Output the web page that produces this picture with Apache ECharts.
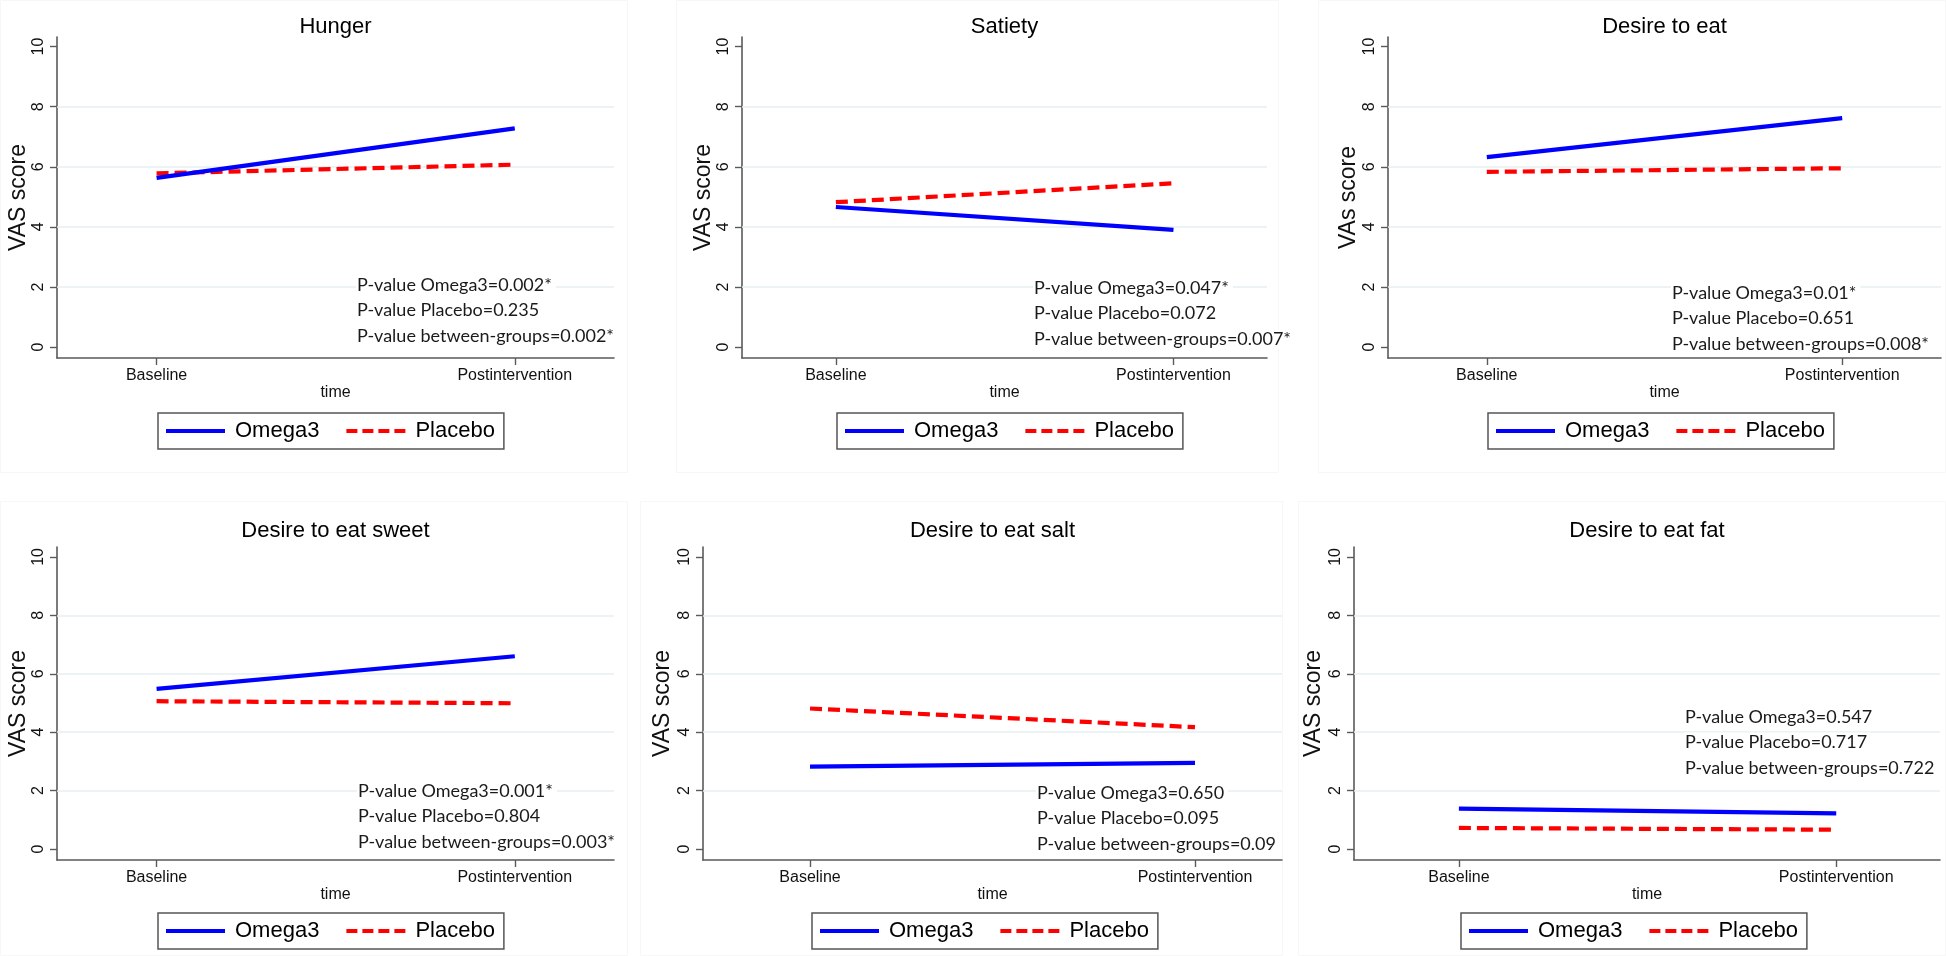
<!DOCTYPE html>
<html>
<head>
<meta charset="utf-8">
<title>VAS scores - Omega3 vs Placebo</title>
<script src="https://cdn.jsdelivr.net/npm/echarts@6/dist/echarts.min.js"></script>
<style>
  html, body { margin: 0; padding: 0; background: #fff; }
  #chart { width: 1946px; height: 956px; }
</style>
</head>
<body>
<div id="chart"></div>
<script>
// data
const timePoints = ['Baseline', 'Postintervention'];
const panelTitles = ['Hunger', 'Satiety', 'Desire to eat', 'Desire to eat sweet', 'Desire to eat salt', 'Desire to eat fat'];
const yNames = ['VAS score', 'VAS score', 'VAs score', 'VAS score', 'VAS score', 'VAS score'];
const yTicks = [0, 2, 4, 6, 8, 10];
const gridValues = [2, 4, 6, 8];

const omega3 = [
  [5.63, 7.28],
  [4.66, 3.90],
  [6.32, 7.62],
  [5.48, 6.60],
  [2.82, 2.95],
  [1.38, 1.22]
];
const placebo = [
  [5.78, 6.07],
  [4.82, 5.45],
  [5.83, 5.95],
  [5.06, 4.99],
  [4.81, 4.17],
  [0.72, 0.66]
];
const pOmega3 = ['0.002*', '0.047*', '0.01*', '0.001*', '0.650', '0.547'];
const pPlacebo = ['0.235', '0.072', '0.651', '0.804', '0.095', '0.717'];
const pBetween = ['0.002*', '0.007*', '0.008*', '0.003*', '0.09', '0.722'];

// layout (pixels) per panel
const layout = [
  {left: 57,   top: 37,  width: 557, height: 321, xMax: 1.277, yMin: -0.366, yMax: 10.32, gap: 26, titleY: 27,  note: [356, 285],  legend: [158, 413], box: [0, 0, 628, 473]},
  {left: 742,  top: 37,  width: 525, height: 321, xMax: 1.277, yMin: -0.366, yMax: 10.32, gap: 26, titleY: 27,  note: [1033, 288], legend: [837, 413], box: [676, 0, 603, 473]},
  {left: 1388, top: 37,  width: 553, height: 321, xMax: 1.278, yMin: -0.366, yMax: 10.32, gap: 28, titleY: 27,  note: [1671, 293], legend: [1488, 413], box: [1318, 0, 628, 473]},
  {left: 57,   top: 547, width: 557, height: 313, xMax: 1.277, yMin: -0.377, yMax: 10.34, gap: 26, titleY: 531, note: [357, 791],  legend: [158, 913], box: [0, 501, 628, 455]},
  {left: 703,  top: 547, width: 579, height: 313, xMax: 1.226, yMin: -0.377, yMax: 10.34, gap: 29, titleY: 531, note: [1036, 793], legend: [812, 913], box: [640, 501, 643, 455]},
  {left: 1354, top: 547, width: 586, height: 313, xMax: 1.275, yMin: -0.377, yMax: 10.34, gap: 29, titleY: 531, note: [1684, 717], legend: [1461, 913], box: [1298, 501, 648, 455]}
];

const axisColor = '#5a5a5a';
const sans = '"Liberation Sans", Arial, sans-serif';
const noteFont = '18px Lato, "Open Sans", sans-serif';
const solidIcon = 'path://M0,0H59V4H0Z';
const dashIcon = 'path://M0,0H11V4H0Z M16,0H27V4H16Z M32,0H43V4H32Z M48,0H59V4H48Z';

const grids = [], xAxes = [], yAxes = [], series = [], legends = [], graphics = [];

layout.forEach(function (p, i) {
  graphics.push({
    type: 'rect', silent: true, z: -10,
    shape: {x: p.box[0] + 0.5, y: p.box[1] + 0.5, width: p.box[2] - 1, height: p.box[3] - 1},
    style: {fill: null, stroke: '#f7f7f7', lineWidth: 1}
  });

  grids.push({left: p.left, top: p.top, width: p.width, height: p.height, containLabel: false});

  xAxes.push({
    type: 'value', gridIndex: i, min: -0.278, max: p.xMax,
    name: 'time', nameLocation: 'middle', nameGap: 27,
    nameTextStyle: {fontFamily: sans, fontSize: 16, color: '#111'},
    axisLine: {show: true, onZero: false, lineStyle: {color: axisColor, width: 1.6}},
    axisTick: {show: true, length: 7, customValues: [0, 1], lineStyle: {color: axisColor, width: 1.4}},
    axisLabel: {
      customValues: [0, 1], margin: 10, fontFamily: sans, fontSize: 16, color: '#111',
      formatter: function (v) { return timePoints[Math.round(v)]; }
    },
    splitLine: {show: false}
  });

  yAxes.push({
    type: 'value', gridIndex: i, min: p.yMin, max: p.yMax,
    name: yNames[i], nameLocation: 'middle', nameGap: p.gap,
    nameTextStyle: {fontFamily: sans, fontSize: 23, color: '#111'},
    axisLine: {show: true, onZero: false, lineStyle: {color: axisColor, width: 1.6}},
    axisTick: {show: true, length: 7, customValues: yTicks, lineStyle: {color: axisColor, width: 1.4}},
    axisLabel: {customValues: yTicks, rotate: 90, margin: 10, fontFamily: sans, fontSize: 16, color: '#111'},
    splitLine: {show: false}
  });

  series.push({
    name: 'Omega3', type: 'line', xAxisIndex: i, yAxisIndex: i,
    data: omega3[i].map(function (v, k) { return [k, v]; }),
    symbol: 'none', z: 3,
    lineStyle: {color: '#0000ff', width: 4.2, type: 'solid'},
    itemStyle: {color: '#0000ff'},
    markLine: {
      silent: true, symbol: 'none', z: 1, animation: false,
      label: {show: false},
      lineStyle: {color: '#e6eff0', type: 'solid', width: 1.5},
      data: gridValues.map(function (v) { return {yAxis: v}; })
    }
  });
  series.push({
    name: 'Placebo', type: 'line', xAxisIndex: i, yAxisIndex: i,
    data: placebo[i].map(function (v, k) { return [k, v]; }),
    symbol: 'none', z: 2,
    lineStyle: {color: '#ff0000', width: 4.2, type: [12, 6], cap: 'butt'},
    itemStyle: {color: '#ff0000'}
  });

  legends.push({
    data: [{name: 'Omega3', icon: solidIcon}, {name: 'Placebo', icon: dashIcon}],
    left: p.legend[0], top: p.legend[1],
    orient: 'horizontal',
    borderColor: '#555', borderWidth: 1.5, borderRadius: 0,
    padding: [7, 9, 7, 8],
    itemGap: 27, itemWidth: 59, itemHeight: 4,
    selectedMode: false,
    textStyle: {fontFamily: sans, fontSize: 22, color: '#000', padding: [0, 0, 0, 5]}
  });

  graphics.push({
    type: 'text', silent: true,
    x: p.left + p.width / 2, y: p.titleY,
    style: {text: panelTitles[i], fill: '#000', font: '22px ' + sans, align: 'center', verticalAlign: 'middle'}
  });

  // p-value notes, one white-backed line each (they hide the grid line behind them)
  const lines = [
    'P-value Omega3=' + pOmega3[i],
    'P-value Placebo=' + pPlacebo[i],
    'P-value between-groups=' + pBetween[i]
  ];
  lines.forEach(function (t, k) {
    graphics.push({
      type: 'text', silent: true, z: 10,
      x: p.note[0], y: p.note[1] + k * 25.5,
      style: {
        text: t, fill: '#1a1a1a', font: noteFont,
        align: 'left', verticalAlign: 'middle',
        backgroundColor: '#ffffff', padding: [1, 4, 1, 1]
      }
    });
  });
});

const chart = echarts.init(document.getElementById('chart'), null, {renderer: 'canvas'});
chart.setOption({
  backgroundColor: '#ffffff',
  animation: false,
  grid: grids,
  xAxis: xAxes,
  yAxis: yAxes,
  legend: legends,
  series: series,
  graphic: graphics
});
</script>
</body>
</html>
